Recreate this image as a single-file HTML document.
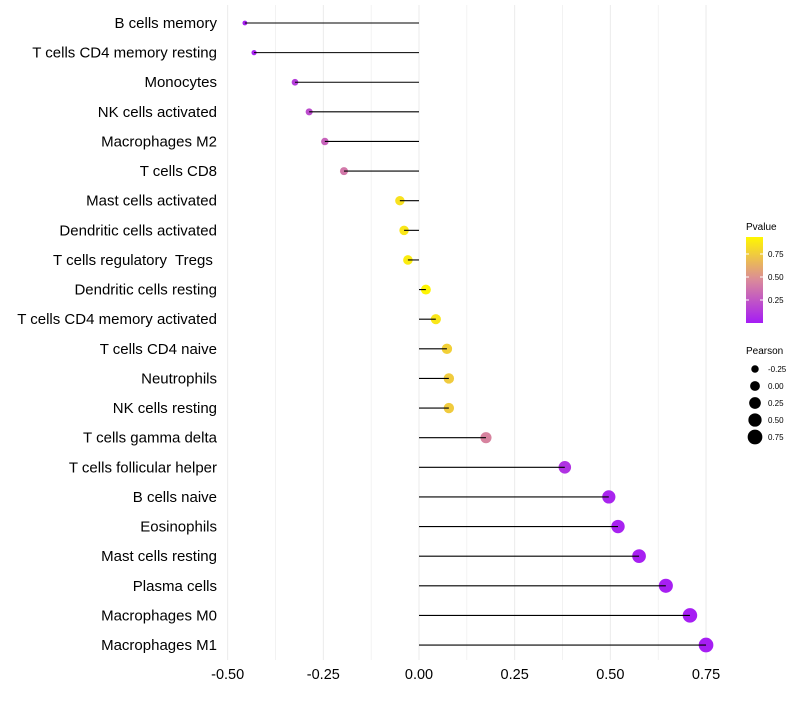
<!DOCTYPE html>
<html><head><meta charset="utf-8"><style>
body{margin:0;background:#fff;font-family:"Liberation Sans",sans-serif}
svg text{font-family:"Liberation Sans",sans-serif;white-space:pre}
</style></head><body>
<svg width="800" height="700">
<defs><linearGradient id="pg" x1="0" y1="1" x2="0" y2="0">
<stop offset="0" stop-color="#A51CF5"/><stop offset="0.5" stop-color="#DA8A9A"/><stop offset="1" stop-color="#FFF700"/></linearGradient></defs>
<g id="grid"></g>
<g id="marks"></g>
<g id="ylabels"></g>
<g id="xlabels"></g>
<g>
<text x="746" y="230" font-size="10">Pvalue</text>
<rect x="746" y="237" width="17" height="86" fill="url(#pg)"/>
<g id="cbticks"></g>
</g>
<g id="sizeleg">
<text x="746" y="354" font-size="10">Pearson</text>
</g>
</svg>
<script>
const categories=["B cells memory","T cells CD4 memory resting","Monocytes","NK cells activated","Macrophages M2","T cells CD8","Mast cells activated","Dendritic cells activated","T cells regulatory  Tregs ","Dendritic cells resting","T cells CD4 memory activated","T cells CD4 naive","Neutrophils","NK cells resting","T cells gamma delta","T cells follicular helper","B cells naive","Eosinophils","Mast cells resting","Plasma cells","Macrophages M0","Macrophages M1"];
const pearson=[-0.455,-0.431,-0.324,-0.287,-0.246,-0.196,-0.050,-0.039,-0.029,0.018,0.044,0.073,0.078,0.078,0.175,0.381,0.496,0.52,0.575,0.645,0.708,0.75];
const pvalue=[0.02,0.03,0.15,0.22,0.32,0.42,0.9,0.92,0.95,0.99,0.92,0.82,0.8,0.8,0.47,0.1,0.04,0.03,0.02,0.015,0.01,0.01];
const xTicks=[-0.5,-0.25,0,0.25,0.5,0.75];
const xTickLabels=["-0.50","-0.25","0.00","0.25","0.50","0.75"];
const cbTicks=[0.25,0.5,0.75];
const sizeLegend=[-0.25,0,0.25,0.5,0.75];
const NS="http://www.w3.org/2000/svg";
const X=v=>419+v*382.7;
const Y=i=>23+i*29.62;
const R=v=>Math.sqrt(Math.max(1.5,24+40*v));
function hex(h){return [1,3,5].map(k=>parseInt(h.substr(k,2),16));}
const stops=[hex("#A51CF5"),hex("#DA8A9A"),hex("#FFF700")];
function col(p){let t=p*2,a,b;if(t<=1){a=stops[0];b=stops[1];}else{a=stops[1];b=stops[2];t-=1;}return "rgb("+a.map((c,k)=>Math.round(c+(b[k]-c)*t)).join(",")+")";}
function el(tag,at,parent){const e=document.createElementNS(NS,tag);for(const k in at)e.setAttribute(k,at[k]);parent.appendChild(e);return e;}
const grid=document.getElementById('grid');
for(let v=-0.5;v<=0.751;v+=0.125){const g=el('line',{x1:X(v),x2:X(v),y1:5,y2:660,stroke:'#ebebeb','stroke-width':v*8%2===0?1:0.6},grid);

}
const marks=document.getElementById('marks');
categories.forEach((c,i)=>{
const pt=el('circle',{cx:X(pearson[i]),cy:Y(i),r:R(pearson[i]),fill:col(pvalue[i])},marks);


const s=el('line',{x1:X(0),x2:X(pearson[i]),y1:Y(i),y2:Y(i),stroke:'#000','stroke-width':1.1},marks);


const t=el('text',{x:217,y:Y(i)+5,'text-anchor':'end','font-size':15,fill:'#000'},document.getElementById('ylabels'));
t.textContent=c;


});
xTicks.forEach((v,i)=>{const t=el('text',{x:X(v),y:679,'text-anchor':'middle','font-size':14.5,fill:'#000'},document.getElementById('xlabels'));
t.textContent=xTickLabels[i];

});
const cb=document.getElementById('cbticks');
cbTicks.forEach(v=>{const y=323-v*92;
el('line',{x1:746,x2:749,y1:y,y2:y,stroke:'#fff'},cb);el('line',{x1:760,x2:763,y1:y,y2:y,stroke:'#fff'},cb);
const t=el('text',{x:768,y:y+3,'font-size':8,fill:'#000'},cb);t.textContent=v.toFixed(2);

});
const sl=document.getElementById('sizeleg');
sizeLegend.forEach((v,i)=>{const y=369+i*17;
const c=el('circle',{cx:755,cy:y,r:R(v),fill:'#000'},sl);


const t=el('text',{x:768,y:y+3,'font-size':8,fill:'#000'},sl);t.textContent=v.toFixed(2);

});
</script>
</body></html>
